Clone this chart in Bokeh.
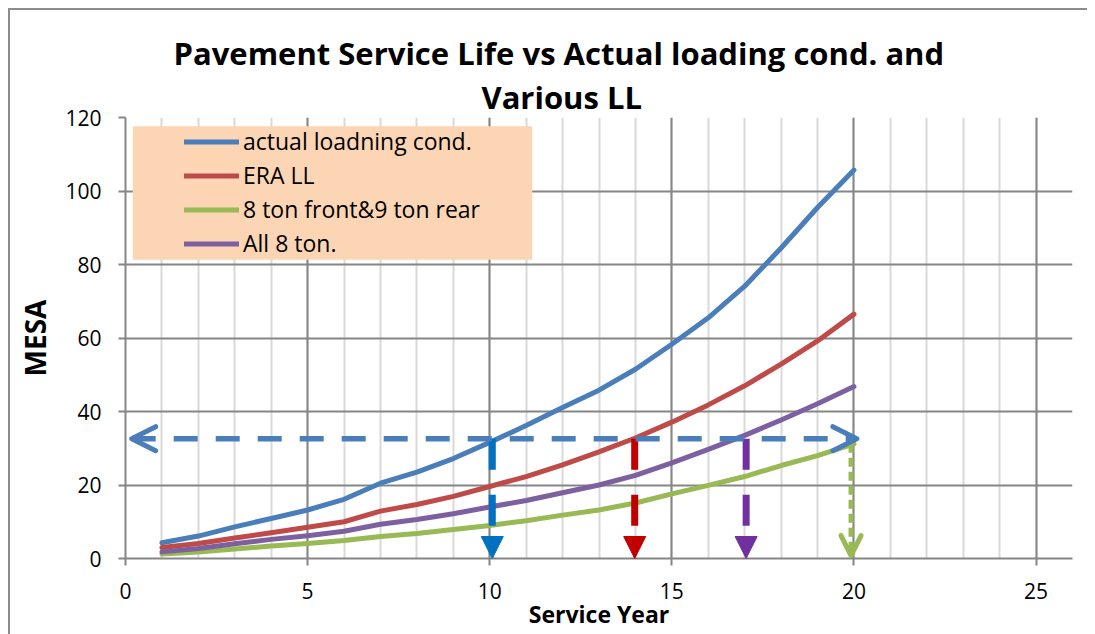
from bokeh.plotting import figure
from bokeh.models import (Range1d, SingleIntervalTicker, Legend, LegendItem, Title,
                          Arrow, NormalHead, OpenHead, BoxAnnotation, GlobalInlineStyleSheet)
from bokeh.embed import file_html
from bokeh.resources import INLINE

# ---------------- data ----------------
years = list(range(1, 21))
actual = [4.3, 6.1, 8.6, 10.9, 13.2, 16.1, 20.5, 23.5, 27.2, 31.6,
          36.2, 41.1, 45.8, 51.5, 58.3, 65.5, 74.1, 84.5, 95.5, 105.7]
era_ll = [3.0, 4.1, 5.6, 7.0, 8.5, 10.0, 12.9, 14.7, 16.9, 19.6,
          22.3, 25.5, 29.0, 32.8, 37.1, 41.8, 47.0, 52.9, 59.2, 66.5]
ton8_9 = [1.2, 1.8, 2.6, 3.4, 4.1, 4.9, 6.0, 6.8, 7.9, 9.0,
          10.3, 11.8, 13.2, 15.1, 17.6, 19.9, 22.3, 25.3, 28.0, 31.2]
all8 = [1.8, 2.7, 4.0, 5.2, 6.2, 7.4, 9.3, 10.6, 12.2, 14.0,
        15.8, 17.9, 20.0, 22.6, 26.0, 29.7, 33.5, 37.7, 42.1, 46.8]

series_values = [actual, era_ll, ton8_9, all8]
series_names = ["actual loadning cond.", "ERA LL", "8 ton front&9 ton rear", "All 8 ton."]
series_colors = ["#4A7EBB", "#BE4B48", "#98B954", "#7D60A0"]

design_mesa = 32.6                       # MESA level of the horizontal arrow
h_arrow_years = [0.17, 20.08]            # horizontal arrow extent
cross_years = [10.07, 13.98, 17.04]      # service life for each case
cross_colors = ["#0070C0", "#C00000", "#7030A0"]
green_year = 19.92
green_tip = 0.8

title_lines = ["Pavement Service Life vs Actual loading cond. and", "Various LL"]
x_label = "Service Year"
y_label = "MESA"

FONT = "Open Sans"
GRID_DARK = "#868686"
GRID_LIGHT = "#D9D9D9"

# ---------------- figure ----------------
p = figure(width=1087, height=634, output_backend="svg", toolbar_location=None,
           title=None,
           x_range=Range1d(0, 26), y_range=Range1d(0, 120),
           min_border_left=125, min_border_right=15, min_border_top=117,
           min_border_bottom=76)
p.outline_line_color = None
p.background_fill_color = "white"
p.border_fill_color = None
p.styles = {"background": "linear-gradient(#8C8C8C, #8C8C8C) 8px 8px / 2px 626px no-repeat, "
                          "linear-gradient(#8C8C8C, #8C8C8C) 8px 8px / 1079px 2px no-repeat, #ffffff"}
p.stylesheets = [GlobalInlineStyleSheet(css="html, body { overflow: hidden; }")]

xt = SingleIntervalTicker(interval=5, num_minor_ticks=5)
yt = SingleIntervalTicker(interval=20, num_minor_ticks=0)
p.xaxis[0].ticker = xt
p.yaxis[0].ticker = yt
p.xgrid[0].ticker = xt
p.ygrid[0].ticker = yt

for ax in (p.xaxis[0], p.yaxis[0]):
    ax.axis_line_color = GRID_DARK
    ax.axis_line_width = 2
    ax.major_tick_line_color = GRID_DARK
    ax.major_tick_line_width = 2
    ax.major_tick_in = 0
    ax.major_tick_out = 7
    ax.minor_tick_line_color = None
    ax.major_label_text_font = FONT
    ax.major_label_text_font_size = "21px"
    ax.major_label_text_color = "black"
p.xaxis[0].major_label_standoff = 17
p.yaxis[0].major_label_standoff = 17

p.yaxis[0].axis_label = y_label
p.yaxis[0].axis_label_text_font = FONT
p.yaxis[0].axis_label_text_font_style = "bold"
p.yaxis[0].axis_label_text_font_size = "28px"
p.yaxis[0].axis_label_text_color = "black"
p.yaxis[0].axis_label_standoff = 8

p.xgrid[0].grid_line_color = GRID_DARK
p.xgrid[0].grid_line_width = 2
p.xgrid[0].minor_grid_line_color = GRID_LIGHT
p.xgrid[0].minor_grid_line_width = 2
p.ygrid[0].grid_line_color = GRID_DARK
p.ygrid[0].grid_line_width = 2

# x-axis title as a panel below the axis
p.add_layout(Title(text=x_label, text_font=FONT, text_font_style="bold",
                   text_font_size="23px", text_color="black", align="center",
                   standoff=-7, vertical_align="top"), "below")

# ---------------- titles (closest to the plot first) ----------------
p.add_layout(Title(text=title_lines[1], text_font=FONT, text_font_style="bold",
                   text_font_size="31px", text_color="black", align="left",
                   offset=356, standoff=0, vertical_align="bottom"), "above")
p.add_layout(Title(text=title_lines[0], text_font=FONT, text_font_style="bold",
                   text_font_size="31px", text_color="black", align="left",
                   offset=48, standoff=0, vertical_align="bottom"), "above")

# ---------------- series ----------------
renderers = []
for vals, col in zip(series_values, series_colors):
    r = p.line(years, vals, line_width=5, line_color=col,
               line_cap="round", line_join="round")
    renderers.append(r)

# ---------------- arrows ----------------
for xc, col in zip(cross_years, cross_colors):
    p.add_layout(Arrow(end=NormalHead(size=22, fill_color=col, line_color=col, line_width=1),
                       x_start=xc, y_start=design_mesa, x_end=xc, y_end=0,
                       line_color=col, line_width=7, line_dash="31 25"))

p.add_layout(Arrow(end=OpenHead(size=20, line_color=series_colors[2], line_width=5,
                                line_cap="round", line_join="round"),
                   x_start=green_year, y_start=ton8_9[-1], x_end=green_year, y_end=green_tip,
                   line_color=series_colors[2], line_width=5, line_dash="9 5"))

h_col = series_colors[0]
p.add_layout(Arrow(start=OpenHead(size=24, line_color=h_col, line_width=5,
                                  line_cap="round", line_join="round"),
                   end=OpenHead(size=24, line_color=h_col, line_width=5,
                                line_cap="round", line_join="round"),
                   x_start=h_arrow_years[0], y_start=design_mesa,
                   x_end=h_arrow_years[1], y_end=design_mesa,
                   line_color=h_col, line_width=5.5, line_dash="24 18"))

# ---------------- legend ----------------
p.add_layout(BoxAnnotation(left=7.3, right=406.7, bottom=298.7, top=432.3,
                           left_units="screen", right_units="screen",
                           top_units="screen", bottom_units="screen",
                           fill_color="#FCD5B5", fill_alpha=1, line_color=None))
legend = Legend(items=[LegendItem(label=n, renderers=[r]) for n, r in zip(series_names, renderers)],
                location=(59, 299), orientation="vertical")
legend.background_fill_alpha = 0
legend.border_line_color = None
legend.padding = 1
legend.margin = 0
legend.spacing = 2
legend.glyph_width = 55
legend.glyph_height = 17
legend.label_height = 17
legend.label_standoff = 4
legend.label_text_font = FONT
legend.label_text_font_size = "23px"
legend.label_text_color = "black"
p.add_layout(legend)

open("out.html", "w").write(file_html(p, INLINE))
